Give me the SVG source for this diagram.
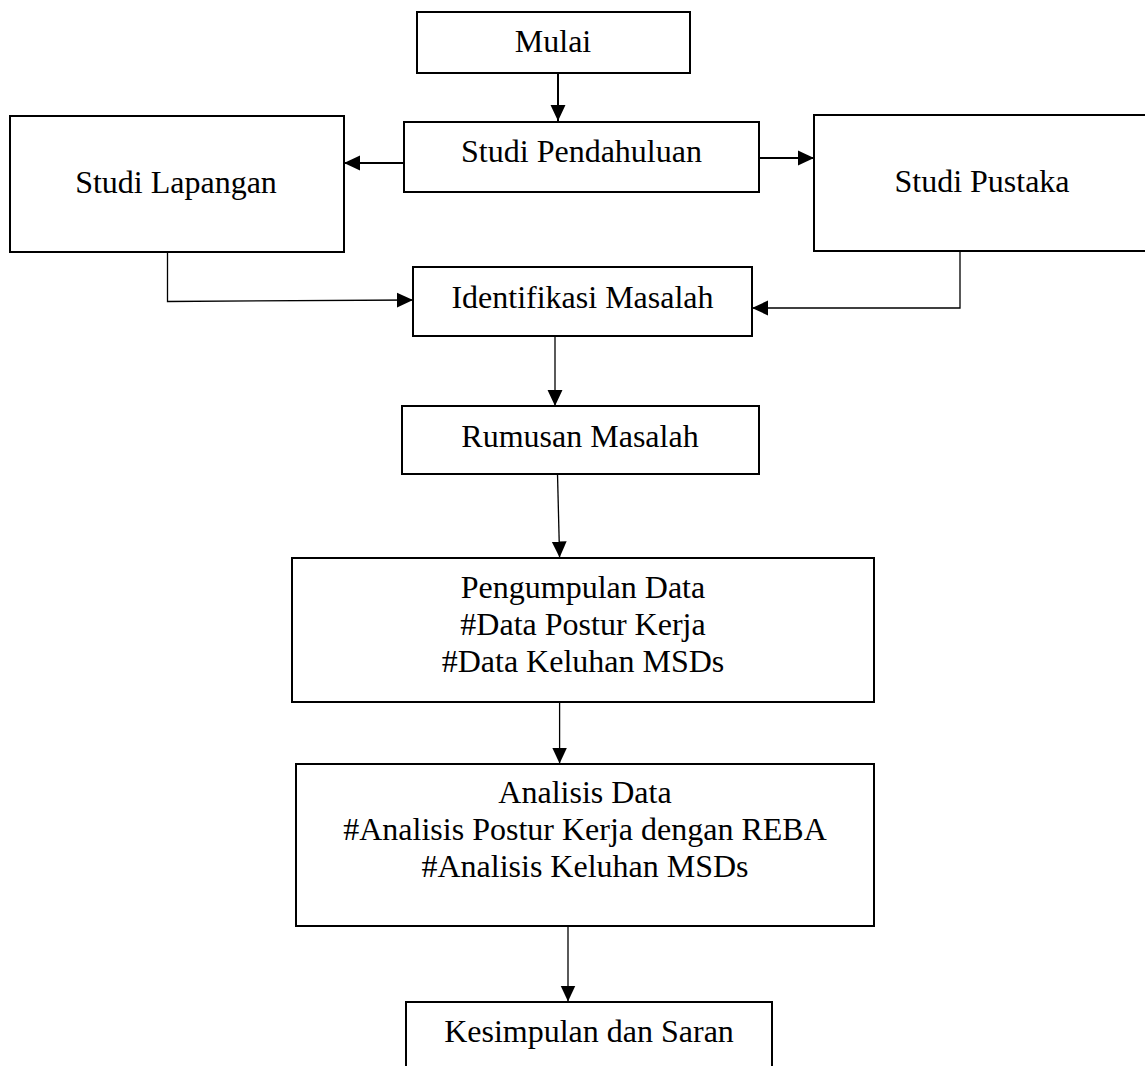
<svg xmlns="http://www.w3.org/2000/svg" width="1145" height="1066" viewBox="0 0 1145 1066">
<style>
.box{fill:#fff;stroke:#000;stroke-width:2}
.lbl{font-family:"Liberation Serif","Times New Roman",serif;font-size:32px;fill:#000;text-anchor:middle}
.c{fill:none;stroke:#000;stroke-width:1.3}
.ct{fill:none;stroke:#000;stroke-width:2}
</style>
<defs>
<marker id="ah" markerUnits="userSpaceOnUse" markerWidth="16" markerHeight="16" viewBox="0 0 15 14" refX="15" refY="7" orient="auto">
<path d="M0,0 L15,7 L0,14 Z" fill="#000"/>
</marker>
</defs>
<rect width="1145" height="1066" fill="#fff"/>
<g id="connectors">
<line class="ct" x1="558" y1="73" x2="558" y2="121" marker-end="url(#ah)"/>
<line class="ct" x1="404" y1="163" x2="344" y2="163" marker-end="url(#ah)"/>
<line class="ct" x1="759" y1="158" x2="814" y2="158" marker-end="url(#ah)"/>
<polyline class="c" points="167.5,252 167.5,301.5 413,300" marker-end="url(#ah)"/>
<polyline class="c" points="960,251 960,308 752,308" marker-end="url(#ah)"/>
<line class="c" x1="555" y1="336" x2="555" y2="406" marker-end="url(#ah)"/>
<line class="c" x1="557.5" y1="474" x2="559.6" y2="557.5" marker-end="url(#ah)"/>
<line class="c" x1="559.6" y1="702" x2="559.6" y2="763.5" marker-end="url(#ah)"/>
<line class="c" x1="568" y1="926" x2="568" y2="1001.5" marker-end="url(#ah)"/>
</g>
<g id="mulai">
<rect class="box" x="417" y="12" width="273" height="61"/>
<text class="lbl" x="553" y="52">Mulai</text>
</g>
<g id="studi-pendahuluan">
<rect class="box" x="404" y="122" width="355" height="70"/>
<text class="lbl" x="581.5" y="162">Studi Pendahuluan</text>
</g>
<g id="studi-lapangan">
<rect class="box" x="10" y="116" width="334" height="136"/>
<text class="lbl" x="176" y="193">Studi Lapangan</text>
</g>
<g id="studi-pustaka">
<rect class="box" x="814" y="115" width="345" height="136"/>
<text class="lbl" x="982" y="192">Studi Pustaka</text>
</g>
<g id="identifikasi-masalah">
<rect class="box" x="413" y="267" width="339" height="69"/>
<text class="lbl" x="582.5" y="308">Identifikasi Masalah</text>
</g>
<g id="rumusan-masalah">
<rect class="box" x="402" y="406" width="357" height="68"/>
<text class="lbl" x="580" y="447">Rumusan Masalah</text>
</g>
<g id="pengumpulan-data">
<rect class="box" x="292" y="558" width="582" height="144"/>
<text class="lbl" x="583" y="598">Pengumpulan Data</text>
<text class="lbl" x="583" y="635">#Data Postur Kerja</text>
<text class="lbl" x="583" y="672">#Data Keluhan MSDs</text>
</g>
<g id="analisis-data">
<rect class="box" x="296" y="764" width="578" height="162"/>
<text class="lbl" x="585" y="803">Analisis Data</text>
<text class="lbl" x="585" y="840">#Analisis Postur Kerja dengan REBA</text>
<text class="lbl" x="585" y="877">#Analisis Keluhan MSDs</text>
</g>
<g id="kesimpulan">
<rect class="box" x="406" y="1002" width="366" height="80"/>
<text class="lbl" x="589" y="1042">Kesimpulan dan Saran</text>
</g>
</svg>
